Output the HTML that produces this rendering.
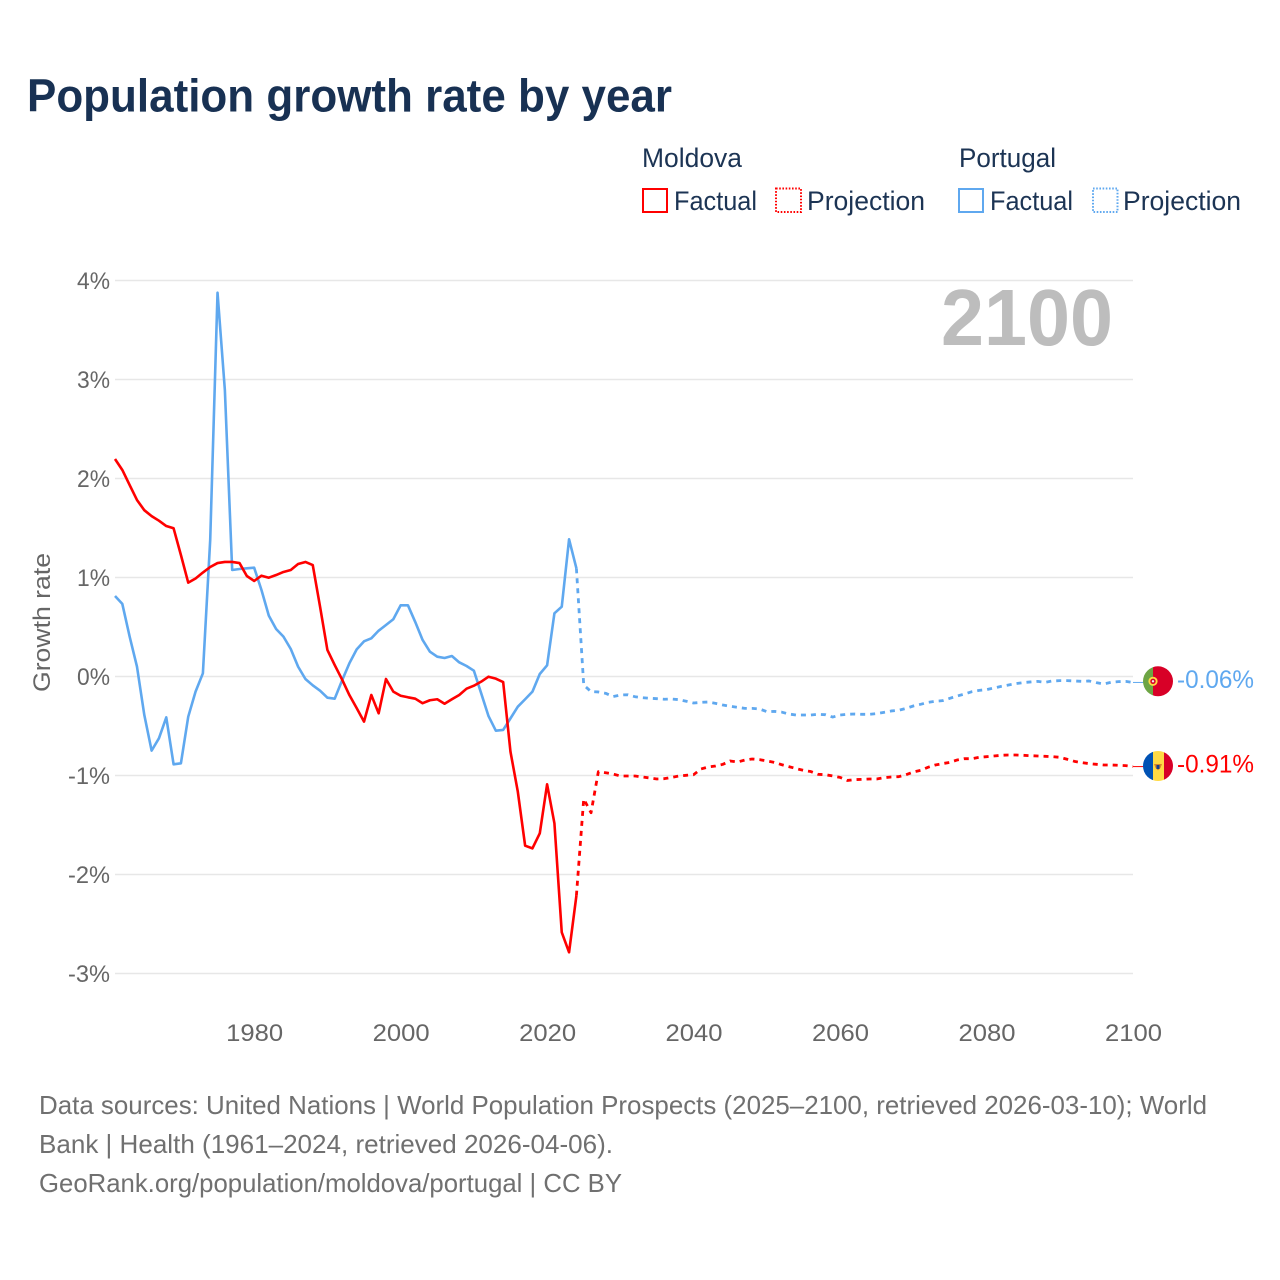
<!DOCTYPE html>
<html lang="en">
<head>
<meta charset="utf-8">
<title>Population growth rate by year</title>
<style>
html,body{margin:0;padding:0;background:#fff;}
svg{display:block;font-family:"Liberation Sans",sans-serif;}
</style>
</head>
<body>
<svg id="chart" width="1280" height="1280" viewBox="0 0 1280 1280" xmlns="http://www.w3.org/2000/svg">
  <rect x="0" y="0" width="1280" height="1280" fill="#ffffff"/>
  <text x="27" y="111.5" font-size="46" font-weight="700" fill="#183153" textLength="645" lengthAdjust="spacingAndGlyphs">Population growth rate by year</text>

  <g font-size="26.5" fill="#1c3454">
    <text x="642" y="167" textLength="100" lengthAdjust="spacingAndGlyphs">Moldova</text>
    <text x="959" y="167" textLength="97" lengthAdjust="spacingAndGlyphs">Portugal</text>
    <g>
      <rect x="643" y="189" width="24" height="23" fill="none" stroke="#ff0000" stroke-width="2"/>
      <text x="674" y="210" textLength="83" lengthAdjust="spacingAndGlyphs">Factual</text>
    </g>
    <g>
      <rect x="776" y="188.5" width="25" height="23.5" fill="none" stroke="#ff0000" stroke-width="2" stroke-dasharray="1.6 1.6"/>
      <text x="807" y="210" textLength="118" lengthAdjust="spacingAndGlyphs">Projection</text>
    </g>
    <g>
      <rect x="959" y="189" width="24" height="23" fill="none" stroke="#5fa8ef" stroke-width="2"/>
      <text x="990" y="210" textLength="83" lengthAdjust="spacingAndGlyphs">Factual</text>
    </g>
    <g>
      <rect x="1093" y="188.5" width="24.5" height="23.5" fill="none" stroke="#5fa8ef" stroke-width="2" stroke-dasharray="1.6 1.6"/>
      <text x="1123" y="210" textLength="118" lengthAdjust="spacingAndGlyphs">Projection</text>
    </g>
  </g>

  <g id="grid"></g>
  <g id="yTickGroup"></g>
  <g id="xTickGroup"></g>

  <text transform="translate(50 622.5) rotate(-90)" text-anchor="middle" font-size="24.5" fill="#666666" textLength="139" lengthAdjust="spacingAndGlyphs">Growth rate</text>

  <text x="941" y="345" font-size="80" font-weight="700" fill="#bdbdbd" textLength="172" lengthAdjust="spacingAndGlyphs">2100</text>

  <g id="seriesGroup"></g>

  <g id="portugalFlag">
    <clipPath id="ptClip"><circle cx="1158" cy="681.3" r="15"/></clipPath>
    <g clip-path="url(#ptClip)">
      <rect x="1143" y="666" width="10" height="31" fill="#6da544"/>
      <rect x="1153" y="666" width="20" height="31" fill="#d80027"/>
      <circle cx="1153" cy="681.3" r="4.6" fill="#ffda44"/>
      <circle cx="1153" cy="681.3" r="2.7" fill="#d80027"/>
      <circle cx="1153" cy="681.3" r="1.2" fill="#f0f0f0"/>
    </g>
  </g>
  <g id="moldovaFlag">
    <clipPath id="mdClip"><circle cx="1158" cy="766" r="15"/></clipPath>
    <g clip-path="url(#mdClip)">
      <rect x="1143" y="751" width="10" height="31" fill="#0052b4"/>
      <rect x="1153" y="751" width="11" height="31" fill="#ffda44"/>
      <rect x="1164" y="751" width="9" height="31" fill="#d80027"/>
      <path d="M1154 764h8l-1.6 4-2.4 2.4-2.4-2.4z" fill="#d8862a"/>
      <rect x="1156.5" y="765" width="3" height="4" fill="#1a3f8a"/>
    </g>
  </g>
  <g id="endLabels"></g>

  <g font-size="26" fill="#707070">
    <text x="39" y="1114" textLength="1168" lengthAdjust="spacingAndGlyphs">Data sources: United Nations | World Population Prospects (2025–2100, retrieved 2026-03-10); World</text>
    <text x="39" y="1153" textLength="574" lengthAdjust="spacingAndGlyphs">Bank | Health (1961–2024, retrieved 2026-04-06).</text>
    <text x="39" y="1192" textLength="583" lengthAdjust="spacingAndGlyphs">GeoRank.org/population/moldova/portugal | CC BY</text>
  </g>
</svg>
<script>
var factualStartYear = 1961;
var projectionStartYear = 2024;
var yTickValues = [4, 3, 2, 1, 0, -1, -2, -3];
var yTickLabels = ["4%", "3%", "2%", "1%", "0%", "-1%", "-2%", "-3%"];
var xTickYears = [1980, 2000, 2020, 2040, 2060, 2080, 2100];
var moldovaFactual = [2.197,2.086,1.934,1.783,1.68,1.62,1.574,1.52,1.497,1.227,0.948,0.99,1.05,1.106,1.146,1.157,1.157,1.146,1.015,0.965,1.018,0.998,1.025,1.056,1.076,1.136,1.157,1.126,0.705,0.268,0.116,-0.03,-0.187,-0.32,-0.456,-0.187,-0.372,-0.025,-0.153,-0.194,-0.21,-0.224,-0.27,-0.24,-0.23,-0.275,-0.23,-0.187,-0.123,-0.093,-0.052,-0.002,-0.022,-0.056,-0.76,-1.163,-1.709,-1.736,-1.584,-1.089,-1.483,-2.584,-2.786,-2.214];
var moldovaProjection = [-2.214,-1.237,-1.376,-0.961,-0.972,-0.985,-1.005,-1.005,-1.005,-1.015,-1.025,-1.035,-1.032,-1.019,-1.005,-0.998,-0.992,-0.934,-0.914,-0.904,-0.887,-0.853,-0.864,-0.844,-0.833,-0.84,-0.853,-0.867,-0.89,-0.91,-0.93,-0.948,-0.96,-0.988,-0.992,-1.005,-1.019,-1.05,-1.042,-1.039,-1.035,-1.035,-1.022,-1.015,-1.012,-0.992,-0.965,-0.948,-0.917,-0.894,-0.88,-0.867,-0.843,-0.83,-0.83,-0.816,-0.81,-0.803,-0.796,-0.793,-0.793,-0.796,-0.8,-0.803,-0.806,-0.81,-0.816,-0.836,-0.857,-0.87,-0.88,-0.887,-0.894,-0.894,-0.897,-0.9,-0.91];
var portugalFactual = [0.813,0.733,0.403,0.1,-0.388,-0.749,-0.624,-0.413,-0.887,-0.877,-0.406,-0.153,0.032,1.38,3.877,2.894,1.076,1.086,1.093,1.099,0.874,0.615,0.48,0.403,0.278,0.1,-0.025,-0.089,-0.143,-0.214,-0.224,-0.04,0.133,0.274,0.355,0.386,0.463,0.52,0.578,0.719,0.719,0.55,0.369,0.251,0.2,0.187,0.207,0.143,0.106,0.059,-0.17,-0.4,-0.547,-0.54,-0.423,-0.305,-0.23,-0.153,0.025,0.113,0.638,0.705,1.386,1.093];
var portugalProjection = [1.093,-0.086,-0.153,-0.156,-0.17,-0.203,-0.187,-0.184,-0.204,-0.214,-0.22,-0.224,-0.23,-0.227,-0.234,-0.25,-0.268,-0.261,-0.258,-0.271,-0.288,-0.301,-0.311,-0.322,-0.322,-0.328,-0.355,-0.352,-0.359,-0.379,-0.389,-0.389,-0.389,-0.382,-0.386,-0.41,-0.389,-0.382,-0.379,-0.382,-0.382,-0.375,-0.362,-0.348,-0.342,-0.322,-0.298,-0.281,-0.261,-0.25,-0.244,-0.22,-0.197,-0.177,-0.153,-0.14,-0.133,-0.116,-0.1,-0.086,-0.072,-0.062,-0.055,-0.049,-0.059,-0.045,-0.042,-0.042,-0.045,-0.049,-0.045,-0.062,-0.076,-0.059,-0.052,-0.049,-0.06];
var endValueLabels = ["-0.91%", "-0.06%"];

var SVG_NS = "http://www.w3.org/2000/svg";
var RED = "#ff0000";
var BLUE = "#5fa8ef";

function xScale(year) { return 115 + (year - 1961) * (1133 - 115) / (2100 - 1961); }
function yScale(value) { return 676.5 - value * 99; }

function svgEl(tag, parentId) {
  var el = document.createElementNS(SVG_NS, tag);
  document.getElementById(parentId).appendChild(el);
  return el;
}

function linePoints(values, startYear) {
  return values.map(function (v, i) {
    return xScale(startYear + i).toFixed(2) + "," + yScale(v).toFixed(2);
  }).join(" ");
}

yTickValues.forEach(function (v, i) {
  var line = svgEl("line", "grid");
  
  
  line.setAttribute("x1", 115);
  line.setAttribute("x2", 1133);
  line.setAttribute("y1", yScale(v));
  line.setAttribute("y2", yScale(v));
  line.setAttribute("stroke", "#e7e7e7");
  line.setAttribute("stroke-width", "1.5");

  var label = svgEl("text", "yTickGroup");
  
  
  label.setAttribute("x", 110);
  label.setAttribute("y", yScale(v) + 8.5);
  label.setAttribute("text-anchor", "end");
  label.setAttribute("font-size", "24.5");
  label.setAttribute("fill", "#666666");
  label.setAttribute("textLength", yTickLabels[i].length === 2 ? 33 : 42);
  label.setAttribute("lengthAdjust", "spacingAndGlyphs");
  label.textContent = yTickLabels[i];
});

xTickYears.forEach(function (year) {
  var label = svgEl("text", "xTickGroup");
  
  
  label.setAttribute("x", xScale(year) + 0.5);
  label.setAttribute("y", 1041);
  label.setAttribute("text-anchor", "middle");
  label.setAttribute("font-size", "24.5");
  label.setAttribute("fill", "#666666");
  label.setAttribute("textLength", 57);
  label.setAttribute("lengthAdjust", "spacingAndGlyphs");
  label.textContent = String(year);
});

function drawSeries(values, startYear, color, dashed, name) {
  var line = svgEl("polyline", "seriesGroup");
  
  
  line.setAttribute("points", linePoints(values, startYear));
  line.setAttribute("fill", "none");
  line.setAttribute("stroke", color);
  line.setAttribute("stroke-width", dashed ? "2.8" : "2.6");
  line.setAttribute("stroke-linejoin", "round");
  if (dashed) { line.setAttribute("stroke-dasharray", "5 5"); }
}

drawSeries(portugalProjection, projectionStartYear, BLUE, true, "portugal-projection-line");
drawSeries(moldovaProjection, projectionStartYear, RED, true, "moldova-projection-line");
drawSeries(portugalFactual, factualStartYear, BLUE, false, "portugal-factual-line");
drawSeries(moldovaFactual, factualStartYear, RED, false, "moldova-factual-line");

function drawEnd(values, color, text, labelName) {
  var endValue = values[values.length - 1];
  var yEnd = yScale(endValue);
  var connector = svgEl("line", "seriesGroup");
  
  
  connector.setAttribute("x1", xScale(2100));
  connector.setAttribute("x2", 1144);
  connector.setAttribute("y1", yEnd);
  connector.setAttribute("y2", yEnd);
  connector.setAttribute("stroke", color);
  connector.setAttribute("stroke-width", "1");

  var label = svgEl("text", "endLabels");
  
  
  label.setAttribute("x", 1177);
  label.setAttribute("y", yEnd + 5.8);
  label.setAttribute("font-size", "25");
  label.setAttribute("fill", color);
  label.setAttribute("textLength", 77);
  label.setAttribute("lengthAdjust", "spacingAndGlyphs");
  label.textContent = text;
}

drawEnd(moldovaProjection, RED, endValueLabels[0], "moldova-end-value");
drawEnd(portugalProjection, BLUE, endValueLabels[1], "portugal-end-value");
</script>
</body>
</html>
